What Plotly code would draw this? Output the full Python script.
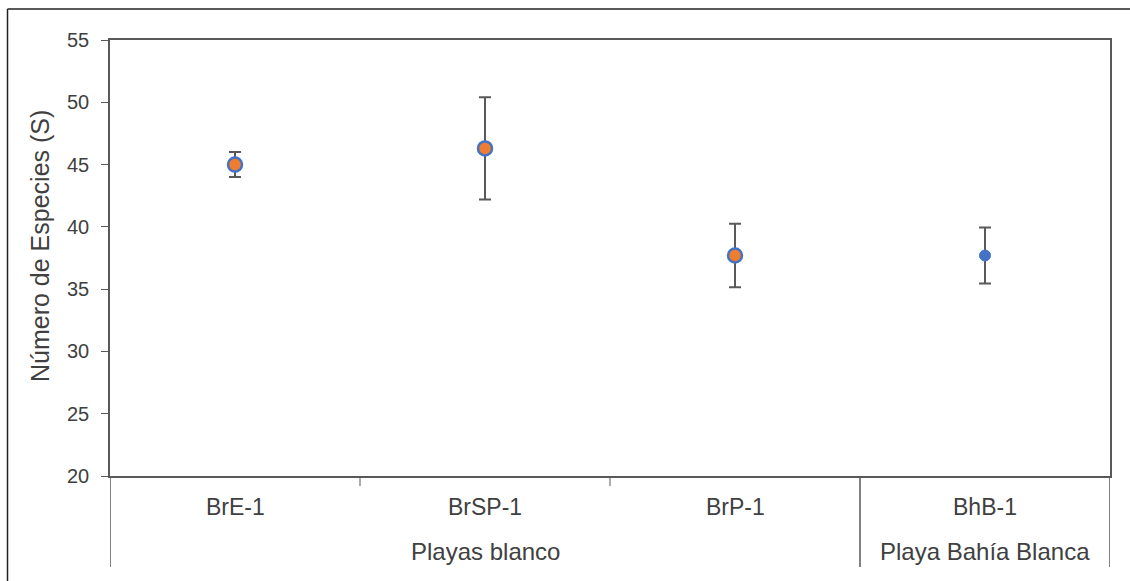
import plotly.graph_objects as go

categories = ["BrE-1", "BrSP-1", "BrP-1", "BhB-1"]
groups = ["Playas blanco", "Playa Bahía Blanca"]
group_spans = [(0, 3), (3, 4)]
means = [45.0, 46.3, 37.7, 37.7]
errors = [1.0, 4.1, 2.55, 2.25]
y_ticks = [20, 25, 30, 35, 40, 45, 50, 55]
y_title = "Número de Especies (S)"

xpos = [i + 0.5 for i in range(len(categories))]
AX = "#595959"
TXT = "#404040"
FONT = "Liberation Sans, Arial, sans-serif"

fig = go.Figure()
fig.add_trace(go.Scatter(
    x=xpos[:3], y=means[:3], mode="markers",
    marker=dict(size=14, color="#ED7D31", line=dict(color="#4472C4", width=2.5)),
    error_y=dict(type="data", array=errors[:3], visible=True, color=AX, thickness=2, width=6),
    showlegend=False))
fig.add_trace(go.Scatter(
    x=xpos[3:], y=means[3:], mode="markers",
    marker=dict(size=11, color="#4472C4", line=dict(color="#4472C4", width=1)),
    error_y=dict(type="data", array=errors[3:], visible=True, color=AX, thickness=2, width=6),
    showlegend=False))

W, H = 1130, 581
ml, mr, mt, mb = 110, 20, 40, 105
pw, ph = W - ml - mr, H - mt - mb

def py(pix):
    return (H - mb - pix) / ph

def px(pix):
    return (pix - ml) / pw

shapes = []
for xv in [0, 3, 4]:
    shapes.append(dict(type="line", xref="x", yref="paper", x0=xv, x1=xv, y0=0, y1=py(567),
                       line=dict(color=AX, width=1.5)))
for xv in [1, 2]:
    shapes.append(dict(type="line", xref="x", yref="paper", x0=xv, x1=xv, y0=0, y1=py(486),
                       line=dict(color=AX, width=1)))
shapes.append(dict(type="line", xref="paper", yref="paper", x0=px(7.5), x1=px(7.5), y0=py(9), y1=py(590),
                   line=dict(color="#222222", width=1.5)))
shapes.append(dict(type="line", xref="paper", yref="paper", x0=px(7.5), x1=px(1140), y0=py(9), y1=py(9),
                   line=dict(color="#222222", width=1.5)))

annotations = []
for x, c in zip(xpos, categories):
    annotations.append(dict(x=x, y=py(507), xref="x", yref="paper", text=c, showarrow=False,
                            font=dict(size=23, color=TXT, family=FONT), yanchor="middle"))
for g, (a, b) in zip(groups, group_spans):
    annotations.append(dict(x=(a + b) / 2, y=py(551), xref="x", yref="paper", text=g, showarrow=False,
                            font=dict(size=24, color=TXT, family=FONT), yanchor="middle"))
annotations.append(dict(x=px(40), y=py(246), xref="paper", yref="paper", text=y_title, textangle=-90,
                        showarrow=False, font=dict(size=25, color=TXT, family=FONT),
                        xanchor="center", yanchor="middle"))

fig.update_layout(
    width=W, height=H,
    margin=dict(l=ml, r=mr, t=mt, b=mb),
    paper_bgcolor="white", plot_bgcolor="white",
    font=dict(family=FONT, size=20, color=TXT),
    shapes=shapes, annotations=annotations,
    xaxis=dict(range=[0, 4], showgrid=False, zeroline=False, showticklabels=False,
               showline=True, linecolor=AX, linewidth=1.5, mirror=True, ticks=""),
    yaxis=dict(range=[20, 55], tickvals=y_ticks, showgrid=False, zeroline=False,
               showline=True, linecolor=AX, linewidth=1.5, mirror=True,
               ticks="outside", ticklen=7, tickcolor=AX, ticklabelstandoff=8,
               tickfont=dict(size=20, color=TXT)),
)

fig.write_html("out.html")
